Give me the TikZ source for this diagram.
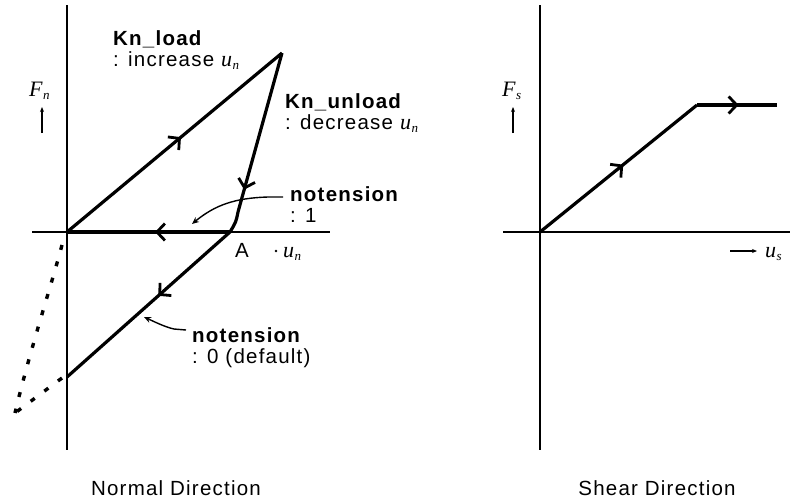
\documentclass[tikz,border=0pt]{standalone}
\usepackage{fontspec}
\setmainfont{Liberation Sans}[LetterSpace=6]
\newfontfamily\serf{Liberation Serif}
\usetikzlibrary{arrows.meta,decorations.markings}
\newcommand{\symb}[2]{{\fontsize{22}{24}\selectfont\serf\itshape #1\kern0.5pt\raisebox{-3.5pt}{\fontsize{13}{13}\selectfont #2}}}
\tikzset{
  curve/.style={line width=3.2pt, line join=round},
  axis/.style={line width=2.2pt},
  haxis/.style={line width=1.4pt},
  midarrow/.style={postaction={decorate},decoration={markings,mark=at position #1 with {\arrow[line width=2.8pt]{Straight Barb[length=8pt,width=17pt]}}}},
  lbl/.style={anchor=base west, inner sep=0pt, font=\fontsize{20.5}{24}\selectfont},
  blbl/.style={lbl, font=\fontsize{20.5}{24}\selectfont\bfseries},
  pointer/.style={line width=1.4pt, -{Stealth[length=7pt,width=6pt]}},
  smallarrow/.style={line width=1.2pt, -{Stealth[length=5pt,width=4pt]}}
}
\begin{document}
\begin{tikzpicture}[x=1pt,y=-1pt]
\useasboundingbox[fill=white] (0,0) rectangle (790,499);
% ---------- left panel ----------
\coordinate (vt) at (67,5);
\coordinate (vb) at (67,450);
\coordinate (hl) at (32,232);
\coordinate (hr) at (330,232);
\coordinate (O) at (67,232);
\coordinate (P) at (282,53);
\coordinate (K) at (238,212);
\coordinate (A) at (230,232);
\coordinate (T) at (67,377);
\draw[axis] (vt) -- (vb);
\draw[haxis] (hl) -- (hr);
\draw[curve, midarrow=0.53] (O) -- (P);
\draw[curve, midarrow=0.86] (P) -- (K);
\draw[curve] (K) .. controls (236,222) .. (A);
\draw[curve, midarrow=0.46] (A) -- (O);
\draw[curve, midarrow=0.44] (A) -- (T);
% dotted tension branch
\coordinate (D1) at (62,378);
\coordinate (D2) at (15,413);
\coordinate (D3) at (62,245);
\draw[line width=3.4pt, dash pattern=on 5pt off 12pt] (D1) -- (D2);
\draw[line width=3.4pt, dash pattern=on 5pt off 12pt] (D3) .. controls (50,290) and (30,350) .. (D2);
% labels
\node[blbl] (kl) at (113,45) {Kn\_load};
\node[lbl] (kli) at (113,66) {: increase \symb{u}{n}};
\node[blbl] (ku) at (285,108) {Kn\_unload};
\node[lbl] (kud) at (285,129) {: decrease \symb{u}{n}};
\node[blbl] (nt1) at (290,201) {notension};
\node[lbl] (nt1v) at (290,222) {: 1};
\node[blbl] (nt0) at (192,342) {notension};
\node[lbl] (nt0v) at (192,363) {: 0 (default)};
\node[lbl] (Alab) at (235,257) {A};
\node[circle, fill, inner sep=0pt, minimum size=2.6pt] (dotn) at (276,251) {};
\node[lbl] (un) at (283,257) {\symb{u}{n}};
\node[lbl] (Fn) at (29,96) {\symb{F}{n}};
\coordinate (fa1) at (42,133);
\coordinate (fa2) at (42,107);
\draw[smallarrow] (fa1) -- (fa2);
% pointer arrows
\coordinate (p1s) at (283,197);
\coordinate (p1m) at (268,197);
\coordinate (p1e) at (192,224);
\draw[pointer] (p1s) -- (p1m) .. controls (235,198) and (215,205) .. (p1e);
\coordinate (p2s) at (186,330);
\coordinate (p2m) at (174,329);
\coordinate (p2e) at (144,317);
\draw[pointer] (p2s) -- (p2m) .. controls (165,327) and (155,322) .. (p2e);
\node[lbl, anchor=base] (nd) at (176,495) {Normal Direction};
% ---------- right panel ----------
\coordinate (svt) at (540,5);
\coordinate (svb) at (540,450);
\coordinate (shl) at (503,232);
\coordinate (shr) at (790,232);
\coordinate (S0) at (540,232);
\coordinate (SY) at (697,105);
\coordinate (SE) at (777,105);
\draw[axis] (svt) -- (svb);
\draw[haxis] (shl) -- (shr);
\draw[curve, midarrow=0.53] (S0) -- (SY);
\draw[curve, midarrow=0.52] (SY) -- (SE);
\node[lbl] (Fs) at (502,96) {\symb{F}{s}};
\coordinate (sa1) at (513,133);
\coordinate (sa2) at (513,107);
\draw[smallarrow] (sa1) -- (sa2);
\coordinate (ua1) at (730,251);
\coordinate (ua2) at (757,251);
\draw[smallarrow] (ua1) -- (ua2);
\node[lbl] (us) at (765,257) {\symb{u}{s}};
\node[lbl, anchor=base] (sd) at (657,495) {Shear Direction};
\end{tikzpicture}
\end{document}
